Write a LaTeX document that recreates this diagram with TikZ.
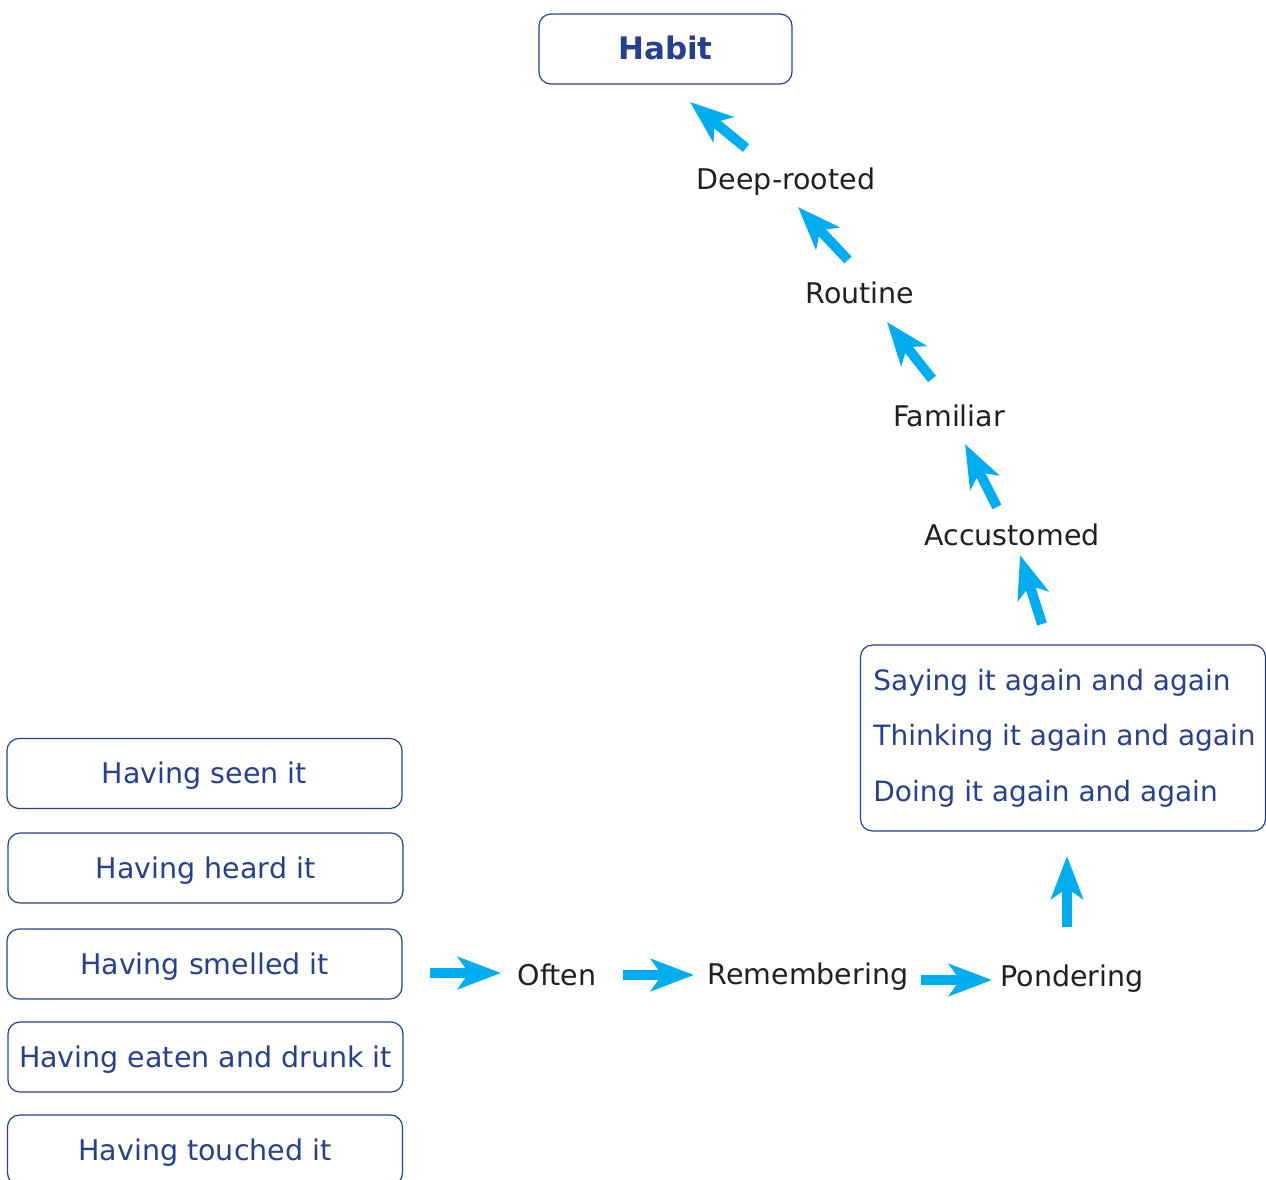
\documentclass[tikz,border=0pt]{standalone}
\usepackage{fontspec}
\setmainfont{DejaVu Sans}
\usepackage{tikz}
\usetikzlibrary{arrows.meta}
\definecolor{boxblue}{RGB}{38,64,143}
\definecolor{flowcyan}{RGB}{0,174,239}
\definecolor{labelblack}{RGB}{35,31,32}

\begin{document}
\begin{tikzpicture}[
  x=1pt,y=-1pt,
  box/.style={draw=boxblue,line width=1.2pt,rounded corners=12pt,text=boxblue,
    inner sep=0pt,minimum height=70pt,text height=27pt,text depth=6.6pt,
    font=\fontsize{28.5}{33}\selectfont},
  sense/.style={box,minimum width=395pt},
  stage/.style={text=labelblack,inner sep=2pt,text height=27pt,text depth=6.6pt,
    font=\fontsize{28.5}{33}\selectfont},
  flow/.style={draw=flowcyan,line width=10pt,
    -{Stealth[length=43pt,width=32pt,inset=11pt]}}
]
\useasboundingbox (0,0) rectangle (1266,1179);

% goal at the top
\node[box,minimum width=253pt,font=\fontsize{31}{36}\selectfont\bfseries]
  (habit) at (665.5,49) {Habit};

% what one takes in
\node[sense] (seen)    at (204.5,773.5) {Having seen it};
\node[sense] (heard)   at (205.5,868)   {Having heard it};
\node[sense] (smelled) at (204.5,964)   {Having smelled it};
\node[sense] (eaten)   at (205.5,1057)  {Having eaten and drunk it};
\node[sense] (touched) at (205,1150)    {Having touched it};

% steps along the bottom
\node[stage] (often)       at (557,975)  {Often};
\node[stage] (remembering) at (808,974)  {Remembering};
\node[stage] (pondering)   at (1072,976) {Pondering};

% repetition
\node[draw=boxblue,line width=1.2pt,rounded corners=12pt,text=boxblue,
  align=left,minimum width=405pt,minimum height=186pt,
  font=\fontsize{28}{55.5}\selectfont] (repeat) at (1063,738)
  {\hspace*{3pt}Saying it again and again\\\hspace*{3pt}Thinking it again and again\\\hspace*{3pt}Doing it again and again};

% steps climbing up
\node[stage] (accustomed) at (1012,535) {Accustomed};
\node[stage] (familiar)   at (949,416)  {Familiar};
\node[stage] (routine)    at (860,293)  {Routine};
\node[stage] (deep)       at (786,179)  {Deep-rooted};

% arrow ends
\coordinate (s1) at (430,973);  \coordinate (e1) at (501,973);
\coordinate (s2) at (623,975);  \coordinate (e2) at (694,975);
\coordinate (s3) at (921,980);  \coordinate (e3) at (992,980);
\coordinate (s4) at (1067,927); \coordinate (e4) at (1067,856);
\coordinate (s5) at (1042,624); \coordinate (e5) at (1020,555);
\coordinate (s6) at (997,507);  \coordinate (e6) at (965,444);
\coordinate (s7) at (932,379);  \coordinate (e7) at (887,322);
\coordinate (s8) at (848,260);  \coordinate (e8) at (798,207);
\coordinate (s9) at (746,148);  \coordinate (e9) at (690,102);

\draw[flow] (s1) -- (e1);
\draw[flow] (s2) -- (e2);
\draw[flow] (s3) -- (e3);
\draw[flow] (s4) -- (e4);
\draw[flow] (s5) -- (e5);
\draw[flow] (s6) -- (e6);
\draw[flow] (s7) -- (e7);
\draw[flow] (s8) -- (e8);
\draw[flow] (s9) -- (e9);
\end{tikzpicture}
\end{document}
